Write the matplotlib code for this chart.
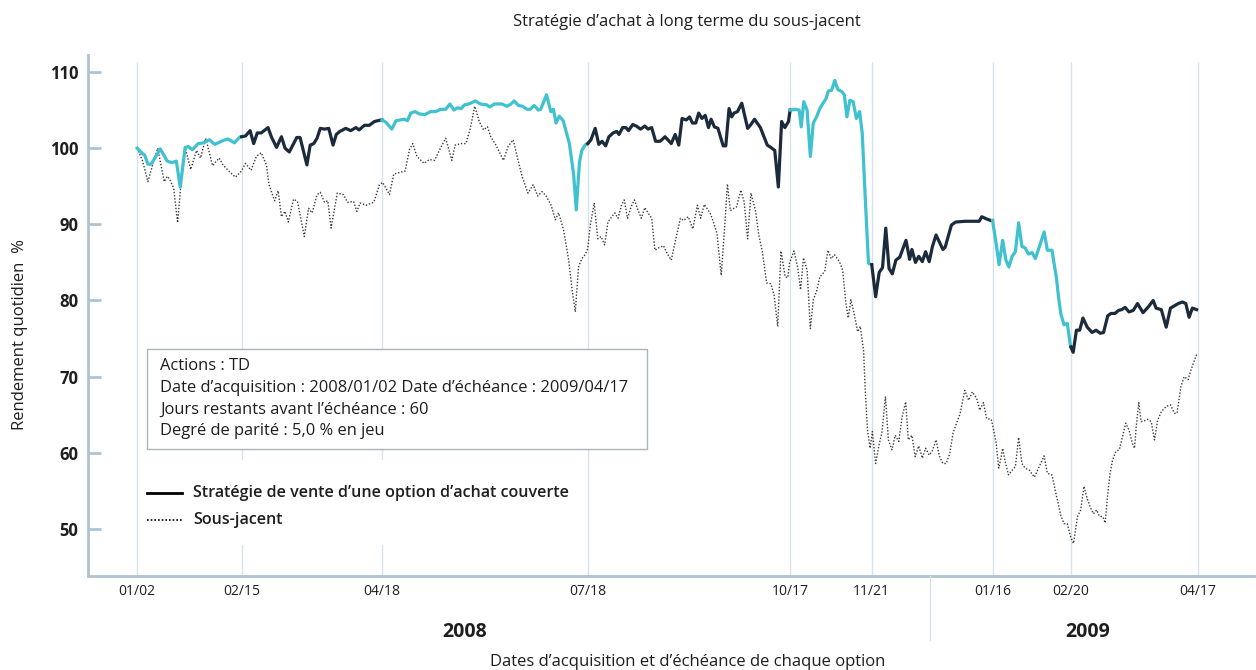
import numpy as np
import matplotlib
matplotlib.use('Agg')
import matplotlib.pyplot as plt
from matplotlib.lines import Line2D
from matplotlib.patches import Rectangle

plt.rcParams['font.family'] = ['Open Sans', 'DejaVu Sans']

# option dates, as trading-day index counted from 2008/01/02
expiry_labels = ['01/02', '02/15', '04/18', '07/18', '10/17', '11/21', '01/16', '02/20', '04/17']
expiry_days = [0, 32, 75, 138, 200, 225, 262, 286, 325]

# covered call strategy (day, %)
strat_days = [0, 1.6, 2.3, 3.3, 4.3, 7.1, 9.2, 10.7, 12.0, 13.2, 14.7, 15.7, 16.9, 18.7, 20.4, 22.1,
              23.8, 26.3, 27.8, 29.8, 31.3, 32, 33.2, 34.6, 35.7, 36.8, 38.0, 40.1, 41.1, 42.7, 44.2,
              45.3, 46.6, 48.9, 49.9, 52.0, 53.0, 54.1, 55.1, 56.1, 57.4, 58.7, 60.0, 61.0, 62.1,
              63.9, 65.4, 67.0, 68.0, 69.6, 71.1, 72.7, 74.7, 75, 76.2, 78.0, 79.3, 81.8, 82.8, 83.8,
              85.1, 86.4, 88.1, 89.9, 91.4, 93.0, 94.5, 95.8, 97.0, 98.1, 99.3, 100.3, 101.6, 103.6,
              105.1, 107.0, 108.0, 109.4, 111.7, 113.3, 114.5, 115.5, 116.8, 118.1, 119.4, 120.4,
              121.6, 122.9, 123.6, 125.4, 126.7, 127.5, 128.3, 129.3, 130.5, 132.4, 133.7, 134.5,
              135.5, 136.2, 137.2, 138, 139.0, 140.3, 141.4, 142.4, 143.5, 144.5, 145.8, 146.9,
              147.6, 148.7, 149.7, 150.5, 151.8, 152.9, 154.2, 155.5, 156.5, 157.6, 158.8, 160.2,
              161.7, 163.6, 164.8, 165.9, 166.9, 168.2, 169.2, 170.1, 171.1, 172.0, 173.0, 174.0,
              175.0, 175.8, 176.8, 177.9, 179.5, 180.3, 181.3, 182.1, 182.8, 183.9, 185.2, 187.0,
              188.0, 189.1, 190.9, 193.0, 194.1, 195.3, 196.4, 197.4, 198.4, 199.5, 200, 201.8,
              202.8, 203.4, 204.2, 205.2, 206.2, 207.1, 208.1, 209.1, 210.1, 211.0, 211.7, 212.7,
              213.7, 214.6, 215.9, 216.6, 217.4, 218.3, 219.3, 220.3, 221.3, 222.1, 223.0, 224.0,
              225, 226.2, 227.3, 228.3, 229.3, 230.3, 231.3, 232.4, 233.6, 235.5, 236.6, 237.3,
              238.4, 239.4, 240.5, 241.5, 242.6, 243.6, 244.7, 246.8, 247.5, 249.4, 250.7, 253.6,
              257.9, 258.7, 260.2, 261.5, 262, 263.1, 264.0, 265.1, 266.1, 267.0, 268.0, 269.0,
              270.0, 271.0, 272.0, 273.0, 274.1, 275.1, 276.3, 277.8, 278.8, 280.2, 281.6, 282.2,
              282.9, 283.9, 284.9, 285.8, 286, 286.7, 287.7, 288.7, 289.7, 291.0, 292.5, 293.7,
              295.0, 296.0, 297.3, 298.3, 299.5, 300.6, 301.6, 302.6, 303.8, 305.1, 306.4, 308.1,
              309.6, 311.2, 312.1, 313.7, 315.2, 316.5, 317.7, 318.9, 320.2, 321.2, 322.2, 323.2,
              324.5]
strat_vals = [100.0, 99.3, 99.1, 97.9, 97.9, 99.9, 98.3, 98.1, 98.3, 94.9, 100.1, 100.2, 99.8, 100.6,
              100.7, 101.1, 100.5, 101.0, 101.2, 100.7, 101.4, 101.5, 101.6, 102.3, 100.6, 102.0,
              102.0, 102.7, 101.5, 100.1, 101.5, 100.0, 99.5, 101.4, 101.4, 97.8, 100.4, 100.6,
              101.3, 102.6, 102.5, 102.6, 100.4, 101.8, 102.2, 102.6, 102.3, 102.7, 102.4, 103.0,
              103.0, 103.5, 103.7, 103.7, 103.4, 102.5, 103.6, 103.8, 103.6, 104.6, 104.8, 104.5,
              104.4, 104.8, 104.8, 105.1, 105.1, 105.8, 105.0, 105.3, 105.2, 105.7, 105.8, 106.2,
              105.8, 105.7, 105.4, 105.8, 105.8, 105.5, 105.8, 106.2, 105.6, 105.5, 105.1, 105.1,
              105.6, 105.0, 105.1, 107.0, 104.8, 105.1, 103.3, 104.2, 103.6, 100.6, 96.5, 91.9,
              98.2, 99.7, 100.4, 100.6, 101.1, 102.6, 100.5, 100.9, 100.3, 101.5, 102.0, 102.2,
              101.8, 102.7, 102.7, 102.3, 103.1, 102.9, 102.5, 102.9, 102.5, 102.7, 100.9, 100.9,
              101.5, 100.6, 101.8, 100.4, 103.9, 103.7, 104.1, 103.3, 103.3, 104.6, 103.9, 104.3,
              102.7, 103.8, 102.8, 102.6, 100.3, 100.3, 105.2, 104.1, 104.6, 104.8, 105.9, 102.6,
              103.1, 103.8, 102.7, 100.4, 100.1, 99.7, 94.9, 103.5, 102.7, 103.5, 105.0, 105.1,
              105.0, 102.8, 106.1, 105.0, 98.9, 103.3, 104.1, 105.2, 105.9, 106.5, 107.5, 107.6,
              108.9, 107.7, 107.4, 107.0, 104.1, 106.3, 106.1, 103.9, 104.8, 101.9, 93.6, 84.9,
              84.7, 80.5, 83.7, 84.3, 89.5, 84.2, 83.5, 85.3, 85.7, 87.9, 85.4, 86.7,
              85.0, 85.8, 85.1, 86.4, 85.1, 87.1, 88.6, 86.7, 87.0, 89.9, 90.3, 90.4,
              90.4, 91.0, 90.7, 90.5, 90.5, 87.5, 84.7, 87.9, 85.3, 84.4, 85.8, 86.4,
              90.2, 87.1, 86.9, 86.1, 86.3, 85.5, 87.0, 89.0, 86.6, 86.6, 82.9, 80.5,
              78.3, 76.8, 77.0, 74.2, 73.9, 73.2, 76.1, 76.1, 77.7, 76.5, 75.8, 76.1,
              75.7, 75.8, 78.0, 78.3, 78.3, 78.7, 78.8, 79.1, 78.5, 78.7, 79.6, 78.4,
              79.1, 80.0, 79.0, 78.8, 76.5, 79.0, 79.3, 79.6, 79.8, 79.6, 77.8, 79.0,
              78.8]

# underlying (day, %)
under_days = [0, 1.6, 3.3, 4.6, 6.3, 8.3, 9.2, 10.0, 11.2, 12.4, 13.4, 14.7, 16.4, 18.2, 19.4, 21.0,
              23.1, 25.1, 26.3, 28.3, 30.1, 31.8, 33.2, 34.9, 36.5, 38.0, 39.6, 40.4, 42.1, 43.2,
              44.2, 45.3, 46.3, 47.9, 49.1, 51.2, 52.5, 53.6, 55.1, 56.1, 57.4, 58.4, 59.4, 61.3,
              63.2, 64.4, 66.3, 67.3, 68.3, 70.1, 72.5, 74.2, 75.2, 77.3, 78.6, 80.3, 82.1, 83.4,
              84.4, 85.7, 87.9, 89.5, 91.1, 92.9, 94.5, 96.4, 97.4, 99.2, 100.7, 102.0, 103.4,
              104.8, 106.1, 107.3, 108.3, 109.9, 112.2, 113.6, 115.2, 116.4, 117.9, 119.7, 121.3,
              122.7, 124.0, 125.3, 126.8, 128.1, 129.1, 130.6, 132.1, 133.2, 134.2, 135.2, 136.2,
              137.2, 138.0, 138.8, 140.0, 141.1, 142.1, 143.2, 144.2, 145.2, 146.3, 147.3, 148.4,
              149.2, 150.2, 151.3, 152.3, 153.4, 154.4, 155.5, 156.5, 157.6, 158.6, 159.7, 161.2,
              162.3, 163.6, 164.8, 166.4, 167.4, 168.8, 170.2, 171.6, 172.6, 173.7, 175.5, 176.5,
              177.6, 178.9, 180.0, 180.8, 181.7, 182.8, 183.6, 184.9, 185.9, 187.0, 188.0, 189.4,
              190.4, 191.5, 192.8, 194.1, 195.1, 196.2, 197.2, 198.5, 199.3, 199.8, 201.2, 202.3,
              203.2, 204.1, 205.2, 206.2, 207.1, 208.1, 209.1, 210.6, 211.6, 212.6, 213.6, 215.1,
              216.1, 217.1, 217.8, 218.6, 219.5, 220.7, 221.5, 222.5, 223.0, 223.7, 224.5, 225.2,
              226.2, 227.3, 228.1, 229.2, 230.1, 231.2, 232.2, 233.3, 234.3, 235.4, 236.2, 237.3,
              238.3, 239.4, 240.5, 241.5, 242.6, 243.6, 244.7, 245.7, 246.8, 247.8, 248.9, 249.9,
              251.0, 252.1, 253.5, 254.7, 255.8, 257.1, 258.1, 259.2, 260.2, 261.6, 262.1, 263.1,
              263.9, 264.6, 265.1, 265.9, 266.9, 268.0, 269.0, 270.0, 271.0, 272.0, 273.3, 274.8,
              276.3, 277.8, 278.8, 280.2, 281.4, 282.9, 283.9, 284.9, 285.9, 286.8, 288.0, 289.0,
              290.0, 291.0, 291.9, 292.9, 293.9, 294.7, 295.8, 296.5, 297.2, 298.0, 298.8, 299.8,
              300.8, 301.8, 302.8, 303.8, 304.8, 305.5, 306.0, 306.8, 307.5, 308.5, 309.5, 310.6,
              311.6, 312.6, 313.7, 315.2, 316.5, 317.7, 318.5, 319.7, 320.7, 321.9, 322.8, 324.3,
              324.7]
under_vals = [100.0, 98.4, 95.6, 97.6, 100.0, 95.6, 96.3, 95.9, 94.7, 90.2, 95.2, 100.1, 97.2, 99.7,
              98.7, 101.3, 97.7, 98.7, 97.8, 96.9, 96.2, 96.9, 98.0, 97.1, 98.9, 99.4, 97.8, 95.2,
              93.1, 94.4, 91.0, 91.7, 90.3, 93.3, 93.0, 88.4, 92.1, 91.5, 93.9, 94.2, 92.9, 93.1,
              89.5, 94.1, 93.9, 92.9, 93.0, 91.7, 92.8, 92.5, 92.9, 95.2, 95.5, 93.9, 96.6, 96.8,
              97.0, 99.8, 100.6, 98.9, 98.0, 98.5, 98.4, 100.0, 101.3, 98.4, 100.4, 100.6, 100.6,
              102.5, 105.5, 103.5, 102.4, 102.8, 101.5, 100.4, 98.4, 100.2, 101.1, 98.9, 96.3,
              94.1, 95.2, 93.7, 94.3, 93.7, 92.5, 90.6, 91.5, 89.3, 85.5, 81.5, 78.5, 84.4, 85.5,
              86.0, 86.8, 89.9, 92.8, 88.1, 88.4, 87.3, 90.3, 90.9, 91.5, 90.8, 92.6, 93.2, 90.8,
              92.3, 93.2, 91.9, 90.8, 92.2, 91.5, 90.8, 86.6, 86.9, 87.2, 86.2, 85.3, 87.7, 90.8,
              90.5, 91.0, 89.4, 92.5, 90.8, 92.6, 91.5, 90.3, 88.8, 83.3, 89.9, 95.3, 91.8, 92.1,
              92.3, 94.5, 93.0, 88.1, 94.1, 91.8, 88.6, 86.4, 82.3, 82.2, 80.7, 76.6, 86.5, 83.1,
              83.0, 84.9, 86.5, 84.4, 81.4, 85.6, 84.0, 76.3, 80.1, 81.2, 83.1, 83.8, 86.6, 85.5,
              86.0, 85.1, 84.0, 79.6, 77.7, 80.1, 78.5, 75.9, 76.6, 73.5, 68.3, 63.0, 60.6, 62.8,
              58.6, 61.2, 62.6, 67.4, 61.7, 60.4, 62.3, 61.5, 64.7, 66.7, 61.7, 62.3, 59.5, 60.9,
              59.3, 60.6, 59.7, 60.3, 61.7, 59.6, 58.6, 58.6, 59.9, 62.6, 63.9, 65.2, 68.2, 66.9,
              68.0, 67.2, 65.6, 66.6, 64.5, 64.4, 63.5, 61.3, 58.0, 59.3, 60.6, 58.8, 57.1, 57.7,
              58.2, 62.0, 58.6, 58.0, 57.7, 56.8, 58.2, 59.6, 57.3, 57.1, 54.7, 51.8, 50.7, 50.7,
              49.0, 48.1, 51.6, 52.5, 55.6, 54.0, 52.9, 52.0, 52.5, 51.7, 51.6, 50.8, 54.2, 57.3,
              59.1, 60.2, 60.4, 62.1, 63.9, 63.0, 61.3, 60.6, 63.4, 66.6, 64.1, 64.2, 64.4, 64.1,
              61.7, 64.3, 65.4, 66.1, 66.3, 65.2, 65.2, 68.7, 70.0, 69.6, 70.9, 72.7, 73.0]

info_lines = ['Actions : TD',
              'Date d\u2019acquisition : 2008/01/02 Date d\u2019\u00e9ch\u00e9ance : 2009/04/17',
              'Jours restants avant l\u2019\u00e9ch\u00e9ance : 60',
              'Degr\u00e9 de parit\u00e9 : 5,0 % en jeu']
legend_labels = ['Strat\u00e9gie de vente d\u2019une option d\u2019achat couverte', 'Sous-jacent']

cyan = '#3fc1cf'
navy = '#1c2b3b'
axis_col = '#aec3cf'
grid_col = '#d7e2e9'
txt_col = '#1e1e1e'

fig = plt.figure(figsize=(12.56, 6.70), dpi=100)
ax = fig.add_axes([88 / 1256, 94 / 670, 1168 / 1256, 521 / 670])

sd = np.array(strat_days)
sv = np.array(strat_vals)

# vertical lines at each option date
ax.vlines(expiry_days, 43.83, 111.3, color=grid_col, lw=1, zorder=0)

ax.plot(under_days, under_vals, color='#3a3a3a', lw=1.0, ls=(0, (1, 1.3)), zorder=2)

# one colour per option period
for i in range(len(expiry_days) - 1):
    m = (sd >= expiry_days[i]) & (sd <= expiry_days[i + 1])
    col = cyan if i % 2 == 0 else navy
    ax.plot(sd[m], sv[m], color=col, lw=2.3, solid_joinstyle='round', zorder=3)

ax.set_xlim(-15.05, 342.7)
ax.set_ylim(43.83, 112.23)

for s in ['top', 'right']:
    ax.spines[s].set_visible(False)
for s in ['left', 'bottom']:
    ax.spines[s].set_color(axis_col)
    ax.spines[s].set_linewidth(2)

ax.set_yticks([50, 60, 70, 80, 90, 100, 110])
ax.tick_params(axis='y', direction='in', length=9, width=2, color=axis_col,
               labelsize=12, labelcolor=txt_col, pad=7)
for lb in ax.get_yticklabels():
    lb.set_fontweight('bold')
ax.set_xticks(expiry_days, expiry_labels)
ax.tick_params(axis='x', length=0, labelsize=10, labelcolor=txt_col, pad=6)

A = ax.transAxes

# info box
ax.add_patch(Rectangle((59 / 1168, 127 / 521), 500 / 1168, 100 / 521, transform=A,
                       facecolor='white', edgecolor='#aab4ba', lw=1, zorder=4))
for k, line in enumerate(info_lines):
    ax.text(72 / 1168, (210 - 21.7 * k) / 521, line, transform=A, va='center', ha='left',
            fontsize=11.9, color=txt_col, zorder=5)

# legend, drawn by hand
ax.add_patch(Rectangle((52 / 1168, 31 / 521), 440 / 1168, 85 / 521, transform=A,
                       facecolor='white', edgecolor='none', zorder=4))
ax.plot([59 / 1168, 94 / 1168], [83 / 521, 83 / 521], transform=A, color='black', lw=2, zorder=5)
ax.plot([59 / 1168, 94 / 1168], [56 / 521, 56 / 521], transform=A, color='black', lw=1.2,
        ls=(0, (1, 1.2)), zorder=5)
for yy, lab in zip([83, 56], legend_labels):
    ax.text(105 / 1168, yy / 521, lab, transform=A, va='center', ha='left', fontsize=11.6,
            fontweight='semibold', color=txt_col, zorder=5)

# year band under the axis
fig.text(465 / 1256, 1 - 632 / 670, '2008', ha='center', va='center', fontsize=14,
         fontweight='bold', color=txt_col)
fig.text(1088 / 1256, 1 - 632 / 670, '2009', ha='center', va='center', fontsize=14,
         fontweight='bold', color=txt_col)
fig.add_artist(Line2D([930 / 1256, 930 / 1256], [1 - 640 / 670, 94 / 670],
                      transform=fig.transFigure, color=grid_col, lw=1))

fig.text(688 / 1256, 1 - 662 / 670, 'Dates d\u2019acquisition et d\u2019\u00e9ch\u00e9ance de chaque option',
         ha='center', va='center', fontsize=12, color=txt_col)
fig.text(687 / 1256, 1 - 22 / 670, 'Strat\u00e9gie d\u2019achat \u00e0 long terme du sous-jacent',
         ha='center', va='center', fontsize=12, color=txt_col)
fig.text(20 / 1256, 1 - 335 / 670, 'Rendement quotidien  %', rotation=90, ha='center', va='center',
         fontsize=12, color=txt_col)

fig.savefig('out.png', dpi=100)
